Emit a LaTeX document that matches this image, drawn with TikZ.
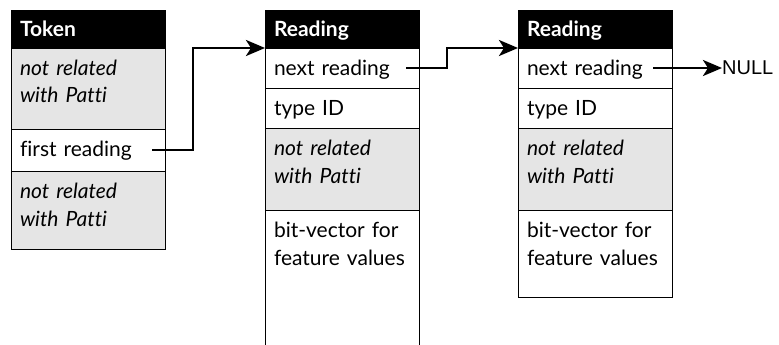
\documentclass[tikz,border=0pt]{standalone}
\usepackage{fontspec}
\setmainfont{Lato}[Ligatures=NoCommon]
\newfontfamily\arialfont{Liberation Sans}
\usetikzlibrary{arrows.meta,positioning}

\begin{document}
\begin{tikzpicture}[
  x=1pt, y=-1pt,
  cell/.style={rectangle, draw, line width=0.9pt, anchor=north west,
               minimum width=154pt, text width=136pt, inner xsep=9pt,
               inner ysep=0pt, outer sep=0pt, text height=27pt, align=left,
               font=\fontsize{21}{28}\selectfont},
  hdr/.style={cell, fill=black, text=white, text depth=11pt,
              font=\fontsize{21}{28}\selectfont\bfseries},
  grey/.style={cell, fill=black!10, font=\fontsize{21}{28}\selectfont\itshape},
  ptr/.style={-{Stealth[length=19pt, width=16pt, inset=5pt]}, line width=2.8pt}
]
\useasboundingbox (0,0) rectangle (779,345);

\node[hdr] (tokh) at (11,10) {Token};
\node[grey, text depth=54pt] (tok1) at (11,48) {not related\\with Patti};
\node[cell, text depth=15pt] (tok2) at (11,129) {first reading};
\node[grey, text depth=51pt] (tok3) at (11,171) {not related\\with Patti};

\node[hdr] (rd1h) at (265,10) {Reading};
\node[cell, text depth=13pt] (rd1a) at (265,48) {next reading};
\node[cell, text depth=13pt] (rd1b) at (265,88) {type ID};
\node[grey, text depth=55pt] (rd1c) at (265,128) {not related\\with Patti};
\node[cell, draw=none, text depth=108pt] (rd1d) at (265,210) {bit-vector for\\feature values};
\draw[line width=0.9pt] (rd1d.south west) -- (rd1d.north west) -- (rd1d.north east) -- (rd1d.south east);

\node[hdr] (rd2h) at (518,10) {Reading};
\node[cell, text depth=13pt] (rd2a) at (518,48) {next reading};
\node[cell, text depth=13pt] (rd2b) at (518,88) {type ID};
\node[grey, text depth=55pt] (rd2c) at (518,128) {not related\\with Patti};
\node[cell, text depth=60pt] (rd2d) at (518,210) {bit-vector for\\feature values};

\node[anchor=west, inner sep=0pt, font=\arialfont\fontsize{20}{24}\selectfont] (nul) at ([xshift=50pt]rd2a.east) {NULL};

\draw[ptr] ([xshift=-13pt]tok2.east) -- ++(41,0) |- (rd1h.south west);
\draw[ptr] ([xshift=-13pt]rd1a.east) -- ++(41,0) |- (rd2h.south west);
\draw[ptr] ([xshift=-19pt]rd2a.east) -- (nul.west);
\end{tikzpicture}
\end{document}
